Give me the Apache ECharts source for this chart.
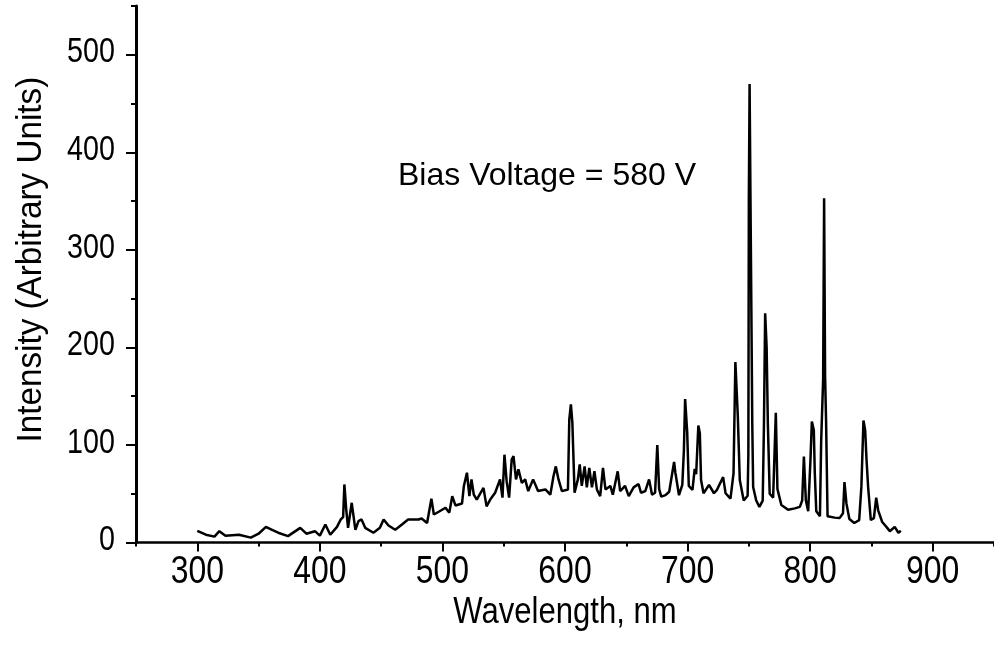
<!DOCTYPE html>
<html><head><meta charset="utf-8">
<script src="https://cdn.jsdelivr.net/npm/echarts@6/dist/echarts.min.js"></script>
<style>html,body{margin:0;padding:0;background:#fff}#c{width:994px;height:650px}</style>
</head><body><div id="c"></div>
<script>
const wavelength = [300,307,314,318,323,334,343.7,350,356,361,366,374,384,389,396,400,404.5,408.5,414,417,419,420,421.5,423,426,427.5,429,431.5,434,437,443.7,449,452,456,461.5,467,472,477.5,480.5,483,487.5,491,493,497,502.5,505.6,508,510.6,516,517.5,520,522,523.7,525.6,528,533.5,536,539,543,547,549,550.6,552.4,554.4,556.5,558,560,562,564.8,567.5,570,574,578,584,588,590.6,592.5,594.7,597.5,602.4,603.5,604.8,606,607.8,610.5,612,613.7,616,617.8,619.8,622,624,626,628.7,631,633,637,639,643,645,649,652,656,660,662,665.5,668.6,671,673.5,675.3,676.8,678.5,682,685,689,690,693,695.7,697,698,699.7,701,704,705.8,707,708.8,710,711,713,717.5,721.5,724,729,731,735,737.5,739,741,742.6,745.8,749,749.6,750,750.6,751.3,752.3,752.8,753.5,756,758.6,761.3,762.3,763.3,764.5,765.5,767,769.8,772,773.3,776.5,782,787.5,791.6,793.5,794.9,796.5,798.4,800.3,801.4,803,803.8,805,808,809,810.6,811.4,812.2,813,814.2,820,824,826.8,828,829.6,832,836,840,841.8,843.5,844.9,846,847.3,849.5,852,853.9,855.5,858.8,862.9,865,869,872,874];
const intensity = [12,8,6,11.6,7,8,5,9,16,13,10,6.5,15,9,11.6,7,18.5,8,16,23.6,26,59.5,34,15,40.7,39,13,22,23.6,15,10,15,23.6,17.5,13,18.5,23.6,23.6,23.6,24.6,20,45,28.7,31.5,35.6,30.6,47.5,38,40,58,71.5,47.5,64.7,49,44,56,37,44,51,64.7,46,90,62.6,46,85,88.6,64.7,75,61,64.7,52.7,64.7,52.7,54.4,49,68,78,64.7,52.7,54.4,126,141.7,123,51,64.7,80,58,78,56.5,76.5,56.5,73,54.4,47.5,76.5,54.4,58,49,73,52.7,58,47.5,56.5,60,51,52.7,64.7,49,51,100,55,47,48.5,52,82.6,72,48.5,59,94.6,147,113,58,54,75.5,70,120,112,64,50.5,59,50.5,54,67,50.5,45,71,185,129,64,43,48,91,355,470,355,355,121,57,43,36.5,43,119,235,200,122,50,46,133,55,38.5,33.5,35,36.5,43,88,43,32,86,124,115,71,32,27,104,167,353,170,125,27,25.5,25,30,62,40,24,20,23,57,125,115,85,57,23,25,46,33,21,15,11.6,16,10,12];
const xTickLabels = [300,400,500,600,700,800,900];
const xMinorTicks = [250,350,450,550,650,750,850,950];
const yTickLabels = [0,100,200,300,400,500];
const yMinorTicks = [50,150,250,350,450,550];
const xTitle = 'Wavelength, nm';
const yTitle = 'Intensity (Arbitrary Units)';
const annotation = 'Bias Voltage = 580 V';

const FONT = '"Liberation Sans", Arial, sans-serif';
const chart = echarts.init(document.getElementById('c'), null, {renderer: 'canvas'});
const pts = wavelength.map((w, i) => [w, intensity[i]]);
const X = [250, 950], Y = [0, 550];
chart.setOption({
  animation: false,
  backgroundColor: '#fff',
  grid: {left: 136, top: 6, width: 860, height: 536.5, containLabel: false},
  xAxis: [{
    type: 'value', min: X[0], max: X[1], position: 'bottom',
    axisLine: {show: true, onZero: false, lineStyle: {color: '#000', width: 2.5}},
    axisTick: {show: true, customValues: xTickLabels, length: 9, lineStyle: {color: '#000', width: 2}},
    axisLabel: {show: false, customValues: xTickLabels},
    splitLine: {show: false}
  }, {
    type: 'value', min: X[0], max: X[1], position: 'bottom',
    axisLine: {show: false},
    axisTick: {show: true, customValues: xMinorTicks, length: 4, lineStyle: {color: '#000', width: 2}},
    axisLabel: {show: false}, splitLine: {show: false}
  }],
  yAxis: [{
    type: 'value', min: Y[0], max: Y[1], position: 'left',
    axisLine: {show: true, onZero: false, lineStyle: {color: '#000', width: 3}},
    axisTick: {show: true, customValues: yTickLabels, length: 10, lineStyle: {color: '#000', width: 2}},
    axisLabel: {show: false, customValues: yTickLabels},
    splitLine: {show: false}
  }, {
    type: 'value', min: Y[0], max: Y[1], position: 'left',
    axisLine: {show: false},
    axisTick: {show: true, customValues: yMinorTicks, length: 5, lineStyle: {color: '#000', width: 2}},
    axisLabel: {show: false}, splitLine: {show: false}
  }],
  series: [{
    type: 'line', data: pts, xAxisIndex: 0, yAxisIndex: 0,
    showSymbol: false, symbol: 'none', sampling: null, smooth: false,
    lineStyle: {color: '#000', width: 2.5}, clip: false
  }]
});

// Tick labels and titles drawn as (horizontally condensed) real text, placed via the axes' scales
const gfx = [];
const xAxisY = chart.convertToPixel({yAxisIndex: 0}, 0);
const yAxisX = chart.convertToPixel({xAxisIndex: 0}, X[0]);
xTickLabels.forEach(v => {
  gfx.push({type: 'text', x: chart.convertToPixel({xAxisIndex: 0}, v), y: xAxisY + 30, scaleX: 0.84,
    style: {text: String(v), fill: '#000', font: '38px ' + FONT, align: 'center', verticalAlign: 'middle'}});
});
yTickLabels.forEach(v => {
  gfx.push({type: 'text', x: yAxisX - 21, y: chart.convertToPixel({yAxisIndex: 0}, v) - 2, scaleX: 0.82,
    style: {text: String(v), fill: '#000', font: '35px ' + FONT, align: 'right', verticalAlign: 'middle'}});
});
gfx.push({type: 'text', x: chart.convertToPixel({xAxisIndex: 0}, 600), y: xAxisY + 70, scaleX: 0.84,
  style: {text: xTitle, fill: '#000', font: '37px ' + FONT, align: 'center', verticalAlign: 'middle'}});
gfx.push({type: 'text', x: 31, y: chart.convertToPixel({yAxisIndex: 0}, 290), rotation: Math.PI / 2, scaleX: 0.95,
  style: {text: yTitle, fill: '#000', font: '35px ' + FONT, align: 'center', verticalAlign: 'middle'}});
gfx.push({type: 'text', x: 398, y: 176,
  style: {text: annotation, fill: '#000', font: '32px ' + FONT, align: 'left', verticalAlign: 'middle'}});
chart.setOption({graphic: gfx});
</script>
</body></html>
